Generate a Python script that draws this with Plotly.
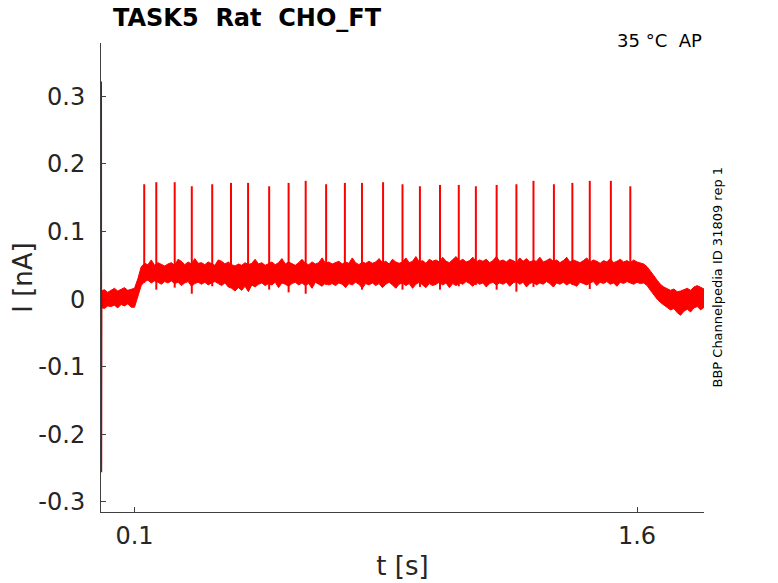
import plotly.graph_objects as go

# sample times of the noise band (s), 0.01 s apart
t_band = [round(i * 0.01, 2) for i in range(181)]

# upper edge of the noisy current band (nA)
band_hi = [
    0.012, 0.014, 0.010, 0.013, 0.016, 0.012, 0.015, 0.017, 0.013, 0.015,
    0.016, 0.030, 0.048, 0.053, 0.051, 0.058, 0.050, 0.054, 0.052, 0.049,
    0.052, 0.054, 0.050, 0.059, 0.056, 0.051, 0.055, 0.052, 0.060, 0.053,
    0.054, 0.051, 0.055, 0.053, 0.050, 0.058, 0.056, 0.052, 0.055, 0.051,
    0.049, 0.052, 0.050, 0.054, 0.051, 0.053, 0.059, 0.052, 0.054, 0.050,
    0.053, 0.055, 0.051, 0.054, 0.060, 0.052, 0.055, 0.053, 0.050, 0.054,
    0.059, 0.053, 0.051, 0.055, 0.052, 0.054, 0.061, 0.053, 0.055, 0.052,
    0.054, 0.056, 0.052, 0.055, 0.053, 0.061, 0.054, 0.051, 0.055, 0.053,
    0.056, 0.053, 0.055, 0.060, 0.054, 0.056, 0.052, 0.059, 0.055, 0.053,
    0.055, 0.061, 0.054, 0.056, 0.063, 0.055, 0.057, 0.053, 0.059, 0.056,
    0.058, 0.055, 0.062, 0.056, 0.054, 0.058, 0.063, 0.056, 0.059, 0.055,
    0.057, 0.062, 0.055, 0.058, 0.056, 0.059, 0.054, 0.057, 0.063, 0.056,
    0.058, 0.055, 0.059, 0.057, 0.054, 0.061, 0.056, 0.060, 0.055, 0.057,
    0.056, 0.062, 0.055, 0.057, 0.060, 0.056, 0.058, 0.054, 0.057, 0.062,
    0.055, 0.058, 0.056, 0.054, 0.057, 0.061, 0.055, 0.058, 0.056, 0.053,
    0.057, 0.055, 0.060, 0.054, 0.056, 0.059, 0.055, 0.057, 0.054, 0.058,
    0.055, 0.053, 0.052, 0.048, 0.042, 0.035, 0.028, 0.022, 0.018, 0.016,
    0.013, 0.015, 0.011, 0.012, 0.014, 0.016, 0.013, 0.018, 0.020, 0.017,
    0.015,
]

# lower edge of the noisy current band (nA)
band_lo = [
    -0.012, -0.014, -0.010, -0.011, -0.009, -0.013, -0.008, -0.010, -0.007, -0.012,
    -0.012, 0.005, 0.020, 0.026, 0.028, 0.024, 0.027, 0.025, 0.022, 0.026,
    0.024, 0.027, 0.023, 0.025, 0.020, 0.024, 0.026, 0.019, 0.023, 0.025,
    0.022, 0.025, 0.021, 0.024, 0.026, 0.023, 0.020, 0.024, 0.018, 0.016,
    0.012, 0.017, 0.013, 0.019, 0.011, 0.021, 0.018, 0.022, 0.024, 0.020,
    0.023, 0.021, 0.025, 0.017, 0.024, 0.022, 0.019, 0.023, 0.025, 0.021,
    0.024, 0.020, 0.023, 0.016, 0.025, 0.022, 0.019, 0.024, 0.021, 0.023,
    0.020, 0.024, 0.022, 0.017, 0.023, 0.021, 0.025, 0.022, 0.016, 0.023,
    0.021, 0.024, 0.020, 0.023, 0.017, 0.022, 0.025, 0.021, 0.016, 0.022,
    0.024, 0.020, 0.023, 0.016, 0.022, 0.025, 0.021, 0.017, 0.023, 0.020,
    0.022, 0.025, 0.021, 0.024, 0.017, 0.023, 0.020, 0.024, 0.022, 0.026,
    0.023, 0.019, 0.025, 0.022, 0.024, 0.018, 0.023, 0.025, 0.021, 0.024,
    0.022, 0.025, 0.019, 0.024, 0.026, 0.022, 0.025, 0.018, 0.023, 0.025,
    0.021, 0.024, 0.022, 0.026, 0.023, 0.018, 0.024, 0.022, 0.025, 0.021,
    0.024, 0.022, 0.019, 0.025, 0.023, 0.021, 0.024, 0.026, 0.020, 0.025,
    0.023, 0.026, 0.022, 0.024, 0.019, 0.025, 0.023, 0.026, 0.024, 0.022,
    0.025, 0.023, 0.024, 0.020, 0.013, 0.006, 0.000, -0.005, -0.009, -0.012,
    -0.016, -0.014, -0.020, -0.024, -0.018, -0.015, -0.019, -0.013, -0.011, -0.016,
    -0.012,
]

# action potential times (s), peaks and post-spike troughs (nA)
spike_t = [0.129, 0.165, 0.220, 0.271, 0.332, 0.388, 0.439, 0.502, 0.560,
           0.611, 0.672, 0.728, 0.779, 0.842, 0.900, 0.952, 1.012, 1.068,
           1.119, 1.181, 1.240, 1.291, 1.352, 1.407, 1.459, 1.522, 1.580]
spike_peak = [0.170, 0.173, 0.173, 0.167, 0.170, 0.172, 0.172, 0.167, 0.172,
              0.175, 0.170, 0.172, 0.172, 0.173, 0.170, 0.167, 0.169, 0.169,
              0.167, 0.169, 0.170, 0.175, 0.170, 0.172, 0.175, 0.175, 0.167]
spike_trough = [0.024, 0.014, 0.017, 0.008, 0.019, 0.019, 0.021, 0.014, 0.010,
                0.008, 0.021, 0.021, 0.014, 0.018, 0.014, 0.018, 0.014, 0.019,
                0.021, 0.014, 0.011, 0.018, 0.019, 0.021, 0.015, 0.023, 0.024]

# capacitive transient at stimulus onset
transient_t = [0.0004, 0.0008, 0.0013, 0.0020]
transient_i = [0.002, 0.322, -0.256, 0.000]

RED = "#ff0000"
AXC = "#404040"
TXT = "#262626"
FONT = "DejaVu Sans"

fig = go.Figure()

fig.add_trace(go.Scatter(x=t_band, y=band_lo, mode="lines",
                         line=dict(color=RED, width=1), hoverinfo="skip"))
fig.add_trace(go.Scatter(x=t_band, y=band_hi, mode="lines", fill="tonexty",
                         fillcolor=RED, line=dict(color=RED, width=1),
                         hoverinfo="skip"))

sx, sy = [], []
for t, lo, pk in zip(spike_t, spike_trough, spike_peak):
    sx += [t, t, None]
    sy += [lo, pk, None]
fig.add_trace(go.Scatter(x=sx, y=sy, mode="lines",
                         line=dict(color=RED, width=2), hoverinfo="skip"))

fig.add_trace(go.Scatter(x=transient_t, y=transient_i, mode="lines",
                         line=dict(color="#b00000", width=1.5), hoverinfo="skip"))

# page body adds an 8 px offset, so the figure is drawn 8 px smaller
fig.update_layout(
    width=770, height=575,
    margin=dict(l=93, r=74, t=35, b=71),
    paper_bgcolor="white", plot_bgcolor="white",
    showlegend=False,
    font=dict(family=FONT, color=TXT),
    title=dict(text="<b>TASK5  Rat  CHO_FT</b>", x=105 / 770, xanchor="left",
               y=1 - 10 / 575, yanchor="middle", pad=dict(l=0, r=0, t=0, b=0),
               font=dict(size=24, color="black", family=FONT)),
)

fig.update_xaxes(
    range=[0, 1.8], showgrid=False, zeroline=False, automargin=False,
    showline=True, linecolor=AXC, linewidth=1,
    ticks="inside", ticklen=5, tickcolor=AXC,
    tickvals=[0.1, 1.6], ticktext=["0.1", "1.6"],
    tickfont=dict(size=24, color=TXT), ticklabelstandoff=2,
    title=dict(text="t [s]", font=dict(size=26, color=TXT), standoff=8),
)
fig.update_yaxes(
    range=[-0.315, 0.379], showgrid=False, zeroline=False, automargin=False,
    showline=True, linecolor=AXC, linewidth=1,
    ticks="inside", ticklen=5, tickcolor=AXC,
    tickvals=[-0.3, -0.2, -0.1, 0, 0.1, 0.2, 0.3],
    ticktext=["-0.3", "-0.2", "-0.1", "0", "0.1", "0.2", "0.3"],
    tickfont=dict(size=24, color=TXT), ticklabelstandoff=10,
    title=dict(text="I [nA]", font=dict(size=26, color=TXT), standoff=0),
)

fig.add_annotation(text="35 °C  AP", xref="paper", yref="paper",
                   x=1, y=1, xanchor="right", yanchor="middle",
                   yshift=3, showarrow=False,
                   font=dict(size=18, color="black", family=FONT))
fig.add_annotation(text="BBP Channelpedia ID 31809 rep 1", xref="paper",
                   yref="paper", x=(709 - 93) / 603, y=0.5, xanchor="center",
                   yanchor="middle", textangle=-90, showarrow=False,
                   font=dict(size=13, color="black", family=FONT))

fig.write_html("out.html")
